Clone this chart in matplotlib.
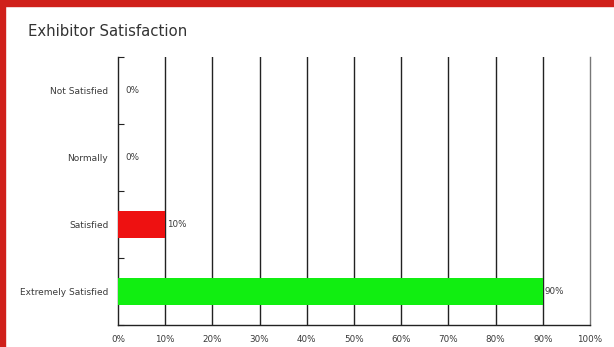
import numpy as np
import matplotlib.pyplot as plt
from matplotlib.patches import Rectangle

categories = ["Not Satisfied", "Normally", "Satisfied", "Extremely Satisfied"]
values = [0, 0, 10, 90]
bar_colors = ["#ee1111", "#ee1111", "#ee1111", "#11ee11"]
xticks = list(range(0, 101, 10))

fig = plt.figure(figsize=(6.14, 3.47), dpi=100)
fig.patch.set_facecolor("white")

# red frame on top / left edges of the screenshot
fig.patches.append(Rectangle((0, 1 - 6 / 347), 1, 6 / 347, transform=fig.transFigure,
                             color="#d0201a", zorder=0))
fig.patches.append(Rectangle((0, 0), 5 / 614, 1, transform=fig.transFigure,
                             color="#d0201a", zorder=0))

ax = fig.add_axes([118 / 614, 1 - 325 / 347, 472 / 614, 268 / 347])
y = np.arange(len(categories))
ax.barh(y, values, height=0.4, color=bar_colors, zorder=3)
ax.set_ylim(len(categories) - 0.5, -0.5)
ax.set_xlim(0, 100)

for yi, v in zip(y, values):
    ax.text(v + 0.3 if v else 1.5, yi, f"{v}%", va="center", ha="left",
            fontsize=6.3, color="#3a3a3a", zorder=4)

ax.set_xticks(xticks)
ax.set_xticklabels([f"{t}%" for t in xticks], fontsize=6.3, color="#3a3a3a")
ax.set_yticks(y)
ax.set_yticklabels(categories, fontsize=6.5, color="#3a3a3a")
ax.tick_params(axis="x", which="major", length=0, pad=7)
ax.tick_params(axis="y", which="major", length=0, pad=7)
ax.set_yticks(np.arange(-0.5, len(categories), 1), minor=True)
ax.tick_params(axis="y", which="minor", direction="in", length=4, width=0.8, color="#222222")

for t in xticks[1:-1]:
    ax.axvline(t, color="#222222", lw=1.0, zorder=2)
ax.axvline(100, color="#777777", lw=1.0, zorder=2, clip_on=False)

for s in ["top", "right"]:
    ax.spines[s].set_visible(False)
for s in ["left", "bottom"]:
    ax.spines[s].set_color("#222222")
    ax.spines[s].set_linewidth(1.0)

fig.text(28 / 614, 1 - 32 / 347, "Exhibitor Satisfaction", fontsize=10.7,
         color="#333333", va="center", ha="left")

fig.savefig("out.png", dpi=100)
